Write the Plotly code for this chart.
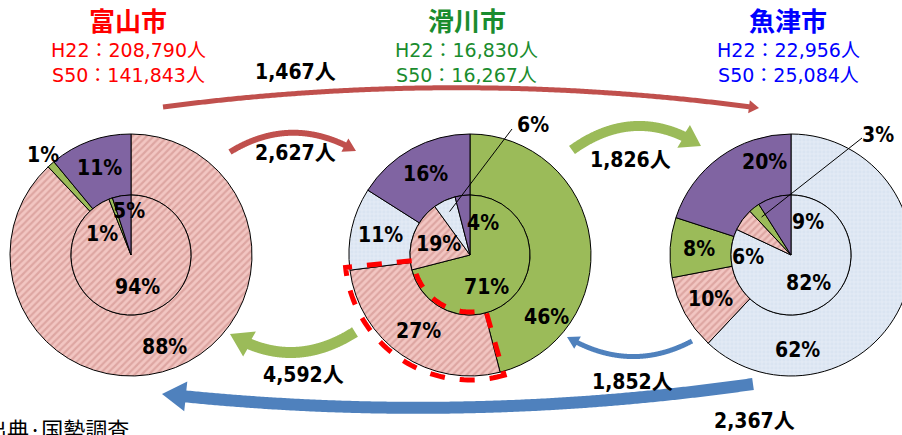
import numpy as np
import plotly.graph_objects as go

# ---- data -------------------------------------------------------------
cities = ["富山市", "滑川市", "魚津市"]
categories = ["富山市", "滑川市", "魚津市", "その他"]

# share (%) of workers by workplace, ordered as in `categories`
toyama_h22 = [88, 1, 0, 11]
toyama_s50 = [94, 1, 0, 5]
namerikawa_h22 = [27, 46, 11, 16]
namerikawa_s50 = [19, 71, 6, 4]
uozu_h22 = [10, 8, 62, 20]
uozu_s50 = [6, 3, 82, 9]

pop_h22 = [208790, 16830, 22956]
pop_s50 = [141843, 16267, 25084]

# commuter flows: (from, to, persons)
flow_from = ["富山市", "富山市", "滑川市", "滑川市", "魚津市", "魚津市"]
flow_to = ["滑川市", "魚津市", "魚津市", "富山市", "滑川市", "富山市"]
flow_count = [2627, 1467, 1826, 4592, 1852, 2367]

source_note = "出典·国勢調査"

# ---- styling ----------------------------------------------------------
# the canvas is a little wider than the visible page so the right ring can run off the edge
W, H = 914, 435
R_OUT, R_IN = 121, 60
CY = 255
CX = {"富山市": 131, "滑川市": 470, "魚津市": 791}
TITLE_COLOR = {"富山市": "#ff0000", "滑川市": "#1a8c2e", "魚津市": "#0000ff"}

BASE = {"富山市": "#f2c6c2", "滑川市": "#9bbb59", "魚津市": "#dae4f1", "その他": "#8064a2"}
PAT = {"富山市": "/", "滑川市": "", "魚津市": "+", "その他": ""}
PAT_FG = {"富山市": "#c98682", "滑川市": "#9bbb59", "魚津市": "#f3f7fc", "その他": "#8064a2"}
PAT_SIZE = {"富山市": 5, "滑川市": 5, "魚津市": 4, "その他": 5}
PAT_SOL = {"富山市": 0.45, "滑川市": 0.3, "魚津市": 0.35, "その他": 0.3}

NUM_FONT = "Liberation Sans Narrow, Arial Narrow, DejaVu Sans Condensed, Noto Sans CJK JP, sans-serif"
LABEL_FONT = dict(family=NUM_FONT, size=21, color="black", weight="bold")

shares = {
    "富山市": (toyama_h22, toyama_s50),
    "滑川市": (namerikawa_h22, namerikawa_s50),
    "魚津市": (uozu_h22, uozu_s50),
}


def px(x, y):
    return x / W, 1 - y / H


def polar(city, theta_deg, r):
    t = np.radians(theta_deg)
    return CX[city] + r * np.sin(t), CY - r * np.cos(t)


def ordered(city, vals):
    # own city first, then the other cities, then "other"
    order = [city] + [c for c in cities if c != city] + ["その他"]
    idx = [categories.index(c) for c in order]
    pairs = [(order[i], vals[j]) for i, j in enumerate(idx) if vals[j] > 0]
    return [p[0] for p in pairs], [p[1] for p in pairs]


def mid_angles(vals):
    cum = np.cumsum([0] + list(vals))
    tot = cum[-1]
    return [(cum[i] + vals[i] / 2) / tot * 360 for i in range(len(vals))], cum / tot * 360


fig = go.Figure()


def add_ring(city, vals, radius, hole):
    labs, v = ordered(city, vals)
    x0, y1 = px(CX[city] - radius, CY - radius)
    x1, y0 = px(CX[city] + radius, CY + radius)
    fig.add_trace(go.Pie(
        labels=labs, values=v, sort=False, direction="clockwise", rotation=0,
        hole=hole, textinfo="none", hoverinfo="label+percent",
        domain=dict(x=[x0, x1], y=[y0, y1]),
        marker=dict(
            colors=[BASE[c] for c in labs],
            line=dict(color="black", width=1),
            pattern=dict(
                shape=[PAT[c] for c in labs],
                fgcolor=[PAT_FG[c] for c in labs],
                size=[PAT_SIZE[c] for c in labs],
                solidity=[PAT_SOL[c] for c in labs],
                fillmode="overlay",
            ),
        ),
        showlegend=False,
    ))
    return labs, v


annotations = []
shapes = []


def text(x, y, s, font, xanchor="center"):
    ax, ay = px(x, y)
    annotations.append(dict(x=ax, y=ay, xref="paper", yref="paper", text=s, showarrow=False,
                            xanchor=xanchor, yanchor="middle", font=font))


# label placement tweaks: (city, ring, category) -> (angle, radius)
label_override = {
    ("富山市", "h22", "滑川市"): (318.6, 133),
    ("富山市", "s50", "滑川市"): (306, 36),
    ("富山市", "s50", "その他"): (358, 44),
    ("富山市", "h22", "富山市"): (160, 98),
    ("滑川市", "h22", "滑川市"): (129, 99),
    ("滑川市", "s50", "滑川市"): (152, 36),
    ("滑川市", "s50", "その他"): (22, 34),
    ("魚津市", "h22", "魚津市"): (176, 95),
    ("魚津市", "h22", "その他"): (344, 97),
    ("魚津市", "s50", "富山市"): (267, 43),
    ("魚津市", "s50", "その他"): (27, 37),
}
# labels pulled outside with a leader line: text centre, line end
leader_labels = {
    ("滑川市", "s50", "魚津市"): ((533, 125), (512, 129)),
    ("魚津市", "s50", "滑川市"): ((878, 135), (862, 138)),
}

for city in cities:
    h22, s50 = shares[city]
    for ring, vals, radius, hole, r_lab in (("h22", h22, R_OUT, R_IN / R_OUT, 92),
                                            ("s50", s50, R_IN, 0, 33)):
        labs, v = add_ring(city, vals, radius, hole)
        mids, _ = mid_angles(v)
        for lab, val, mid in zip(labs, v, mids):
            key = (city, ring, lab)
            s = f"{val}%"
            if key in leader_labels:
                (tx, ty), (lx, ly) = leader_labels[key]
                sx, sy = polar(city, mid, 48)
                x0, y0 = px(sx, sy)
                x1, y1 = px(lx, ly)
                shapes.append(dict(type="line", xref="paper", yref="paper", x0=x0, y0=y0,
                                   x1=x1, y1=y1, line=dict(color="black", width=1)))
                text(tx, ty, s, LABEL_FONT)
                continue
            ang, rr = label_override.get(key, (mid, r_lab))
            x, y = polar(city, ang, rr)
            text(x, y, s, LABEL_FONT)

# titles and population lines
POP_FONT = "DejaVu Sans, Noto Sans CJK JP, sans-serif"
for i, city in enumerate(cities):
    cx = CX[city] - 3
    text(cx, 19, city, dict(family="Noto Sans CJK JP", size=26, color=TITLE_COLOR[city], weight="bold"))
    text(cx, 62, f"H22：{pop_h22[i]:,}人<br>S50：{pop_s50[i]:,}人",
         dict(family=POP_FONT, size=19, color=TITLE_COLOR[city]))


# curved arrows drawn as filled outlines
def arrow_path(p0, pc, p2, width, head_len, head_w):
    p0, pc, p2 = (np.array(p, dtype=float) for p in (p0, pc, p2))
    ts = np.linspace(0, 1, 300)[:, None]
    pts = (1 - ts) ** 2 * p0 + 2 * (1 - ts) * ts * pc + ts ** 2 * p2
    seg = np.linalg.norm(np.diff(pts, axis=0), axis=1)
    remain = np.concatenate([np.cumsum(seg[::-1])[::-1], [0]])
    k = np.argmax(remain < head_len)
    body = pts[:k + 1]
    tang = np.gradient(body, axis=0)
    tang /= np.linalg.norm(tang, axis=1)[:, None]
    nrm = np.stack([-tang[:, 1], tang[:, 0]], axis=1)
    left = body + nrm * width / 2
    right = body - nrm * width / 2
    base = body[-1]
    d = p2 - base
    d /= np.linalg.norm(d)
    nb = np.array([-d[1], d[0]])
    poly = list(left) + [base + nb * head_w / 2, p2, base - nb * head_w / 2] + list(right[::-1])
    out = []
    for i, (x, y) in enumerate(poly):
        a, b = px(x, y)
        out.append(("M" if i == 0 else "L") + f"{a:.5f},{b:.5f}")
    return " ".join(out) + " Z"


RED, GREEN, BLUE = "#c0504d", "#9bbb59", "#4f81bd"
arrow_style = {
    ("富山市", "滑川市"): dict(p0=(230, 152), pc=(292, 114), p2=(356, 151), w=6, hl=13, hw=15, c=RED, lab=(295, 153)),
    ("富山市", "魚津市"): dict(p0=(163, 107), pc=(460, 68), p2=(759, 108), w=5, hl=12, hw=13, c=RED, lab=(295, 72)),
    ("滑川市", "魚津市"): dict(p0=(572, 150), pc=(636, 104), p2=(701, 146), w=10, hl=20, hw=26, c=GREEN, lab=(630, 160)),
    ("滑川市", "富山市"): dict(p0=(355, 332), pc=(292, 372), p2=(230, 334), w=11, hl=22, hw=28, c=GREEN, lab=(303, 375)),
    ("魚津市", "滑川市"): dict(p0=(692, 341), pc=(630, 374), p2=(567, 337), w=5, hl=12, hw=14, c=BLUE, lab=(632, 382)),
    ("魚津市", "富山市"): dict(p0=(753, 384), pc=(458, 426), p2=(162, 394), w=12, hl=24, hw=30, c=BLUE, lab=(754, 421)),
}
for f, t, n in zip(flow_from, flow_to, flow_count):
    st = arrow_style[(f, t)]
    shapes.append(dict(type="path", xref="paper", yref="paper", layer="above",
                       path=arrow_path(st["p0"], st["pc"], st["p2"], st["w"], st["hl"], st["hw"]),
                       fillcolor=st["c"], line=dict(width=0)))
    text(st["lab"][0], st["lab"][1], f"{n:,}人", dict(family=NUM_FONT, size=21, color="black", weight="bold"))

# dashed outline around Namerikawa's commuters to Toyama (H22 ring)
labs, v = ordered("滑川市", namerikawa_h22)
_, edges = mid_angles(v)
k = labs.index("富山市")
a0, a1 = edges[k] - 1.5, edges[k + 1] + 1.5
arc = np.linspace(a0, a1, 60)
ring_pts = [polar("滑川市", a, R_OUT + 4) for a in arc] + [polar("滑川市", a, R_IN - 3) for a in arc[::-1]]
dpath = " ".join(("M" if i == 0 else "L") + "{:.5f},{:.5f}".format(*px(x, y))
                 for i, (x, y) in enumerate(ring_pts)) + " Z"
shapes.append(dict(type="path", xref="paper", yref="paper", layer="above", path=dpath,
                   line=dict(color="#ff0000", width=5, dash="dash")))

text(-17, 428, source_note, dict(family="Noto Sans CJK JP", size=22, color="black"), xanchor="left")

fig.update_layout(
    width=W, height=H, margin=dict(l=0, r=0, t=0, b=0),
    paper_bgcolor="white", plot_bgcolor="white",
    showlegend=False, annotations=annotations, shapes=shapes,
)
fig.write_html(
    "out.html",
    post_script="document.documentElement.style.overflow='hidden';document.body.style.overflow='hidden';",
)
